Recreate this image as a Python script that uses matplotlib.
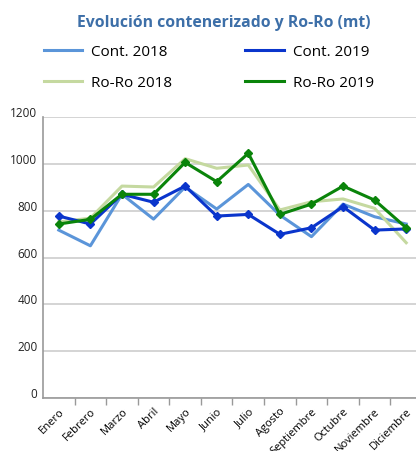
import numpy as np
import matplotlib
matplotlib.use('Agg')
import matplotlib.pyplot as plt
from matplotlib.lines import Line2D

# Data (thousand tonnes)
meses = ['Enero', 'Febrero', 'Marzo', 'Abril', 'Mayo', 'Junio', 'Julio',
         'Agosto', 'Septiembre', 'Octubre', 'Noviembre', 'Diciembre']
cont_2018 = [717, 650, 870, 764, 901, 807, 912, 781, 689, 828, 774, 743]
cont_2019 = [777, 743, 870, 836, 905, 777, 784, 699, 727, 817, 717, 722]
roro_2018 = [752, 768, 905, 901, 1022, 981, 995, 803, 838, 850, 810, 663]
roro_2019 = [743, 763, 870, 870, 1006, 924, 1045, 784, 828, 905, 845, 727]
yticks = [0, 200, 400, 600, 800, 1000, 1200]

c_cont18 = '#5B95D9'
c_cont19 = '#0A35CC'
c_roro18 = '#C5D9A0'
c_roro19 = '#0A840A'

plt.rcParams['font.family'] = ['Open Sans', 'DejaVu Sans']

fig = plt.figure(figsize=(4.16, 4.51), dpi=100)
ax = fig.add_axes([43/416, 1 - 398/451, 379/416, 281/451])

x = np.arange(len(meses))
lw = 2.2
ax.plot(x, cont_2018, color=c_cont18, linewidth=lw, zorder=3)
ax.plot(x, roro_2018, color=c_roro18, linewidth=lw, zorder=3)
ax.plot(x, cont_2019, color=c_cont19, linewidth=lw, marker='D',
        markersize=4, zorder=4)
ax.plot(x, roro_2019, color=c_roro19, linewidth=lw, marker='D',
        markersize=4, zorder=5)

ax.set_xlim(-0.5, len(meses) - 0.5)
ax.set_ylim(0, 1200)
ax.set_yticks(yticks)
ax.yaxis.grid(True, color='#D4D4D4', linewidth=1.4)
ax.set_axisbelow(True)
ax.tick_params(axis='y', length=0, labelsize=8.5, pad=4, colors='#222222')
for lab in ax.get_yticklabels():
    lab.set_verticalalignment('baseline')

ax.set_xticks(x)
ax.set_xticklabels(meses, rotation=45, ha='right', rotation_mode='anchor',
                   fontsize=8)
ax.tick_params(axis='x', which='major', length=0, pad=6)
ax.set_xticks(np.arange(0.5, len(meses) - 0.5, 1), minor=True)
ax.tick_params(axis='x', which='minor', length=5, color='#999999', width=1)

for s in ['top', 'right']:
    ax.spines[s].set_visible(False)
ax.spines['left'].set_color('#999999')
ax.spines['bottom'].set_color('#999999')
ax.spines['left'].set_linewidth(1.2)
ax.spines['bottom'].set_linewidth(1.2)

fig.text(224/416, 1 - 23/451, 'Evolución contenerizado y Ro-Ro (mt)',
         ha='center', va='center', fontsize=11.3, fontweight='bold',
         color='#3D6FA8')

handles = [Line2D([], [], color=c_cont18, linewidth=lw),
           Line2D([], [], color=c_roro18, linewidth=lw),
           Line2D([], [], color=c_cont19, linewidth=lw),
           Line2D([], [], color=c_roro19, linewidth=lw)]
labels = ['Cont. 2018', 'Ro-Ro 2018', 'Cont. 2019', 'Ro-Ro 2019']
fig.legend(handles, labels, ncol=2, frameon=False, fontsize=11,
           loc='upper left', bbox_to_anchor=(30/416, 1 - 31/451),
           handlelength=2.5, handletextpad=0.6, columnspacing=4.8,
           labelspacing=1.05)

fig.savefig('out.png', dpi=100)
print('Plotting ...')
